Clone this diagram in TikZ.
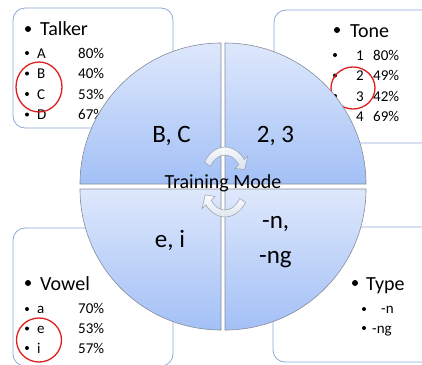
\documentclass[tikz,border=0pt]{standalone}
\usepackage{fontspec}
\setmainfont{Carlito}
\begin{document}
\begin{tikzpicture}[x=1pt,y=-1pt,
  box/.style={draw={rgb,255:red,140;green,168;blue,218},line width=0.8pt,fill=white,rounded corners=12pt},
  quad/.style={draw={rgb,255:red,135;green,140;blue,155},line width=0.6pt,
    top color={rgb,255:red,222;green,232;blue,252},bottom color={rgb,255:red,163;green,192;blue,246}},
  turn/.style={draw={rgb,255:red,150;green,158;blue,172},line width=0.5pt,
    top color=white,bottom color={rgb,255:red,225;green,230;blue,238},fill opacity=0.9},
  ring/.style={draw={rgb,255:red,225;green,30;blue,30},line width=1.3pt},
  title/.style={font=\fontsize{20}{24}\selectfont,anchor=base west,inner sep=0pt},
  item/.style={font=\fontsize{15}{18}\selectfont,anchor=base west,inner sep=0pt},
  qlabel/.style={font=\fontsize{25}{30}\selectfont,anchor=base,inner sep=0pt},
]
\useasboundingbox (0,0) rectangle (422,364);

% corner boxes
\draw[box] (13,8) rectangle (173,128);
\draw[box] (274,10) rectangle (436,143);
\draw[box] (13,228) rectangle (173,366);
\draw[box] (273,227) rectangle (436,362);

% Talker
\fill (28,29) circle (3);
\node[title] (talker) at (40,35) {Talker};
\foreach \n/\l/\p [count=\i from 0] in {ta/A/80\%,tb/B/40\%,tc/C/53\%,td/D/67\%}{
  \fill (27,{53+20.5*\i}) circle (2);
  \node[item] (\n l) at (37,{58+20.5*\i}) {\l};
  \node[item] (\n p) at (78,{58+20.5*\i}) {\p};
}

% Tone
\fill (337,30) circle (3);
\node[title] (tone) at (350,37) {Tone};
\foreach \n/\l/\p [count=\i from 0] in {t1/1/80\%,t2/2/49\%,t3/3/42\%,t4/4/69\%}{
  \fill (335,{55+20.5*\i}) circle (2);
  \node[item] (\n l) at (356,{60+20.5*\i}) {\l};
  \node[item] (\n p) at (373,{60+20.5*\i}) {\p};
}

% Vowel
\fill (28,283) circle (3);
\node[title] (vowel) at (40,290) {Vowel};
\foreach \n/\l/\p [count=\i from 0] in {va/a/70\%,ve/e/53\%,vi/i/57\%}{
  \fill (27,{309+19.5*\i}) circle (2);
  \node[item] (\n l) at (37,{313+20*\i}) {\l};
  \node[item] (\n p) at (78,{313+20*\i}) {\p};
}

% Type
\fill (355,283) circle (3);
\node[title] (type) at (366,290) {Type};
\fill (364,309) circle (2);
\node[item] (tyn) at (381,313) {-n};
\fill (364,328) circle (2);
\node[item] (tyng) at (372,333) {-ng};

% red rings
\draw[ring] (39,87) ellipse [x radius=23,y radius=25];
\draw[ring] (353,88) ellipse [x radius=22,y radius=21];
\draw[ring] (39,340) ellipse [x radius=22.5,y radius=22];

% four quarter discs
\draw[quad] (221,184) -- ++(-141,0) arc[start angle=180,end angle=270,radius=141] -- cycle;
\draw[quad] (225,184) -- ++(0,-141) arc[start angle=270,end angle=360,radius=141] -- cycle;
\draw[quad] (225,189) -- ++(141,0) arc[start angle=0,end angle=90,radius=141] -- cycle;
\draw[quad] (221,189) -- ++(0,141) arc[start angle=90,end angle=180,radius=141] -- cycle;

% circular arrows in the middle
\begin{scope}[shift={(225,182)}]
  \draw[turn] ({25*cos(215)},{35*sin(215)})
    arc[start angle=215,end angle=320,x radius=25,y radius=35]
    -- ({30*cos(320)},{41*sin(320)}) -- ({21.5*cos(336)},{31*sin(336)})
    -- ({13*cos(320)},{21*sin(320)}) -- ({18*cos(320)},{27*sin(320)})
    arc[start angle=320,end angle=215,x radius=18,y radius=27] -- cycle;
\end{scope}
\begin{scope}[shift={(225,183)}]
  \draw[turn] ({25*cos(35)},{34*sin(35)})
    arc[start angle=35,end angle=140,x radius=25,y radius=34]
    -- ({30*cos(140)},{40*sin(140)}) -- ({21.5*cos(157)},{30.5*sin(157)})
    -- ({13*cos(140)},{21*sin(140)}) -- ({18*cos(140)},{27*sin(140)})
    arc[start angle=140,end angle=35,x radius=18,y radius=27] -- cycle;
\end{scope}

% quadrant labels
\node[qlabel] (qtl) at (171.5,142) {B, C};
\node[qlabel] (qtr) at (275.5,142) {2, 3};
\node[qlabel] (qbl) at (170,247) {e, i};
\node[qlabel,anchor=base west] (qbr1) at (262,228) {-n,};
\node[qlabel,anchor=base west] (qbr2) at (259,263) {-ng};

\node[font=\fontsize{20}{24}\selectfont,anchor=base,inner sep=0pt] (mode) at (223,188) {Training Mode};
\end{tikzpicture}
\end{document}
